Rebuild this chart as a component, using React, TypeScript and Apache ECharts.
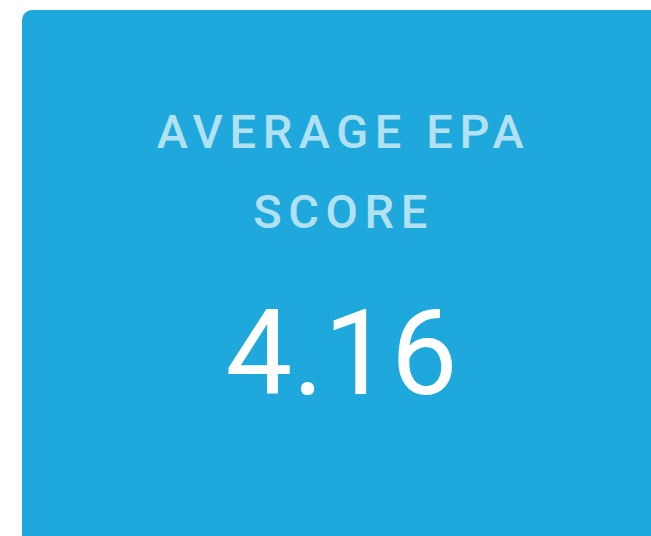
import React, { useEffect, useRef } from "react";
import * as echarts from "echarts";

const titleLines = ["AVERAGE EPA", "SCORE"];
const kpiValue = [4.16];

export default function App() {
  const ref = useRef<HTMLDivElement>(null);
  useEffect(() => {
    if (!ref.current) return;
    const chart = echarts.init(ref.current, null, { renderer: "svg" });
    chart.setOption({
      animation: false,
      backgroundColor: "#ffffff",
      graphic: [
        {
          type: "rect",
          shape: { x: 22, y: 10, width: 640, height: 540, r: 10 },
          style: { fill: "#1fa8dc" },
        },
        {
          type: "text",
          x: 343.5,
          y: 131,
          style: {
            text: titleLines[0],
            fill: "#b1e1f3",
            fontSize: 47,
            fontFamily: "Roboto;letter-spacing:6.6px",
            fontWeight: 500,
            textAlign: "center",
            textVerticalAlign: "middle",
          },
        },
        {
          type: "text",
          x: 343.5,
          y: 211,
          style: {
            text: titleLines[1],
            fill: "#b1e1f3",
            fontSize: 47,
            fontFamily: "Roboto;letter-spacing:6.6px",
            fontWeight: 500,
            textAlign: "center",
            textVerticalAlign: "middle",
          },
        },
        {
          type: "text",
          x: 341.5,
          y: 353,
          style: {
            text: kpiValue[0].toFixed(2),
            fill: "#ffffff",
            fontSize: 119,
            fontFamily: "Roboto",
            fontWeight: 400,
            textAlign: "center",
            textVerticalAlign: "middle",
          },
        },
      ],
    });
    return () => chart.dispose();
  }, []);
  return (
    <div
      ref={ref}
      style={{ position: "fixed", left: 0, top: 0, width: 651, height: 536 }}
    />
  );
}
